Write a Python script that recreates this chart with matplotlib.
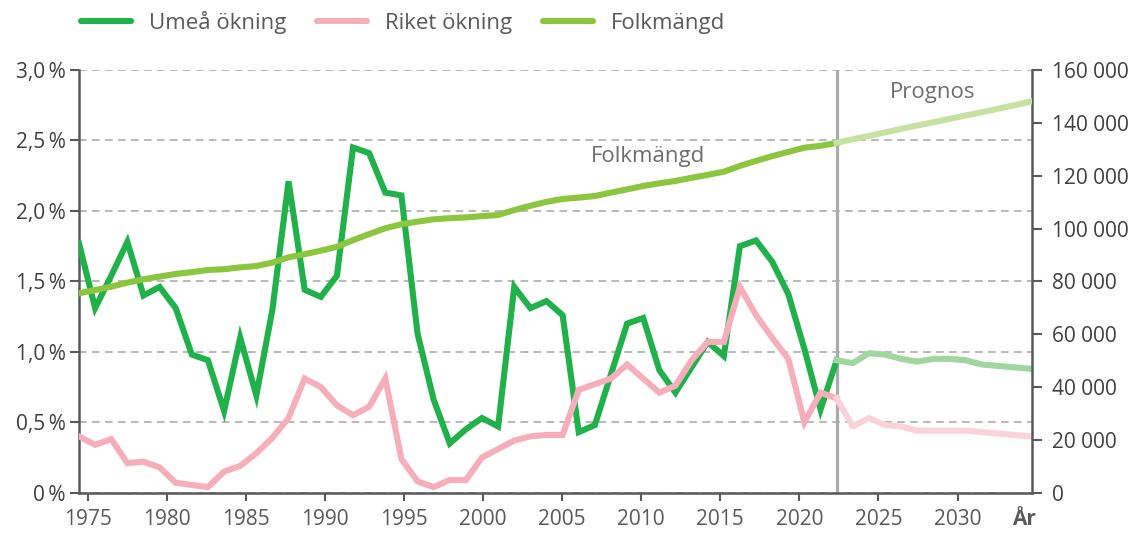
import numpy as np
import matplotlib
matplotlib.use("Agg")
import matplotlib.pyplot as plt
from matplotlib.lines import Line2D

plt.rcParams['font.family'] = ['Open Sans', 'DejaVu Sans']

# ---------------- data ----------------
years_hist = list(range(1975, 2023))          # 1975..2022
years_prog = list(range(2022, 2035))          # 2022..2034 (starts at last observed year)

umea_hist = [1.77, 1.31, 1.54, 1.78, 1.40, 1.46, 1.31, 0.98, 0.94, 0.58,
             1.10, 0.69, 1.30, 2.21, 1.44, 1.39, 1.54, 2.45, 2.41, 2.13,
             2.11, 1.13, 0.66, 0.35, 0.45, 0.53, 0.47, 1.46, 1.31, 1.36,
             1.26, 0.43, 0.48, 0.84, 1.20, 1.24, 0.87, 0.71, 0.89, 1.07,
             0.97, 1.75, 1.79, 1.64, 1.41, 1.02, 0.59, 0.94]
umea_prog = [0.94, 0.92, 0.99, 0.98, 0.95, 0.93, 0.95, 0.95, 0.94, 0.91,
             0.90, 0.89, 0.88]

riket_hist = [0.40, 0.34, 0.38, 0.21, 0.22, 0.18, 0.07, 0.055, 0.04, 0.15,
              0.19, 0.28, 0.39, 0.53, 0.81, 0.75, 0.62, 0.55, 0.61, 0.81,
              0.24, 0.08, 0.04, 0.09, 0.09, 0.25, 0.31, 0.37, 0.40, 0.41,
              0.41, 0.73, 0.77, 0.81, 0.91, 0.81, 0.71, 0.76, 0.94, 1.07,
              1.07, 1.46, 1.26, 1.10, 0.95, 0.50, 0.71, 0.67]
riket_prog = [0.67, 0.47, 0.53, 0.48, 0.47, 0.44, 0.44, 0.44, 0.44, 0.43,
              0.42, 0.41, 0.40]

folk_hist = [75.5, 76.7, 78.0, 79.5, 80.8, 81.8, 82.8, 83.5, 84.3, 84.6,
             85.3, 85.8, 87.1, 89.1, 90.3, 91.6, 93.1, 95.6, 97.9, 100.1,
             101.6, 102.6, 103.5, 103.9, 104.2, 104.7, 105.1, 107.0, 108.6, 110.1,
             111.2, 111.7, 112.3, 113.6, 114.8, 116.1, 117.1, 118.0, 119.2, 120.3,
             121.5, 123.7, 125.6, 127.4, 129.0, 130.6, 131.3, 132.4]
folk_prog = [132.4, 133.8, 135.0, 136.4, 137.7, 139.0, 140.2, 141.5, 142.8,
             144.0, 145.3, 146.6, 148.0]

pct_ticks = [0, 0.5, 1.0, 1.5, 2.0, 2.5, 3.0]
pct_labels = ["0\u2009%", "0,5\u2009%", "1,0\u2009%", "1,5\u2009%", "2,0\u2009%", "2,5\u2009%", "3,0\u2009%"]
pop_ticks = [0, 20000, 40000, 60000, 80000, 100000, 120000, 140000, 160000]
pop_labels = ["0", "20 000", "40 000", "60 000", "80 000", "100 000", "120 000", "140 000", "160 000"]
year_labels = ["1975", "1980", "1985", "1990", "1995", "2000", "2005", "2010",
               "2015", "2020", "2025", "2030"]
split_year = 2022

# ---------------- style ----------------
C_UMEA = "#21B14B"
C_UMEA_P = "#A0D6A0"
C_RIKET = "#F6AEBB"
C_RIKET_P = "#FAD3DA"
C_FOLK = "#8CC63E"
C_FOLK_P = "#C6E2A2"
SPINE = "#595959"
TXT = "#404040"
LW = 4.4

fig = plt.figure(figsize=(11.44, 5.36), dpi=100)
ax = fig.add_axes([0.06906, 0.08078, 0.83278, 0.78862])
ax2 = ax.twinx()

ax.plot(years_hist, umea_hist, color=C_UMEA, lw=LW, solid_joinstyle='miter', zorder=3)
ax.plot(years_prog, umea_prog, color=C_UMEA_P, lw=LW, zorder=3)
ax.plot(years_hist, riket_hist, color=C_RIKET, lw=LW, solid_joinstyle='miter', zorder=4)
ax.plot(years_prog, riket_prog, color=C_RIKET_P, lw=LW, zorder=4)

ax2.plot(years_hist, np.array(folk_hist) * 1000, color=C_FOLK, lw=LW, zorder=3)
ax2.plot(years_prog, np.array(folk_prog) * 1000, color=C_FOLK_P, lw=LW, zorder=3)

ax.axvline(split_year, color="#ABABAB", lw=2.3, zorder=2)

ax.set_xlim(1975, 2034.1)
ax.set_ylim(0, 3.0)
ax2.set_ylim(0, 160000)

ax.set_yticks(pct_ticks, labels=pct_labels)
ax2.set_yticks(pop_ticks, labels=pop_labels)
xt = np.linspace(1975.55, 2029.5, len(year_labels))
ax.set_xticks(xt, labels=year_labels)
ax.set_xticks([2033.6], labels=["År"], minor=True)

ax.yaxis.grid(True, linestyle=(0, (5, 3.5)), color="#A6A6A6", lw=1.1)
ax.set_axisbelow(True)

for a in (ax, ax2):
    a.spines['top'].set_visible(False)
    for s in a.spines.values():
        s.set_color(SPINE)
        s.set_linewidth(1.8)
ax.spines['right'].set_visible(False)
ax2.spines['left'].set_visible(False)
ax2.spines['bottom'].set_visible(False)

ax.tick_params(axis='y', which='major', length=6.5, width=1.5, color=SPINE,
               labelsize=15, labelcolor=TXT, pad=3)
ax.tick_params(axis='x', which='major', length=5.5, width=1.5, color=SPINE,
               labelsize=15, labelcolor="#595959", pad=6.5)
ax.tick_params(axis='x', which='minor', length=0, labelsize=15, labelcolor="#595959", pad=12)
ax2.tick_params(axis='y', length=7.5, width=1.5, color=SPINE,
                labelsize=15, labelcolor=TXT, pad=7)
for lab in ax.get_xticklabels(minor=True):
    lab.set_fontweight('bold')

ax.text(2010.3, 2.384, "Folkmängd", fontsize=16, color="#6D6D6D", ha='center', va='center')
ax.text(2027.96, 2.84, "Prognos", fontsize=16, color="#6D6D6D", ha='center', va='center')

handles = [Line2D([], [], color=C_UMEA, lw=LW, solid_capstyle='round'),
           Line2D([], [], color=C_RIKET, lw=LW, solid_capstyle='round'),
           Line2D([], [], color=C_FOLK, lw=LW, solid_capstyle='round')]
fig.legend(handles, ["Umeå ökning", "Riket ökning", "Folkmängd"],
           loc='center left', bbox_to_anchor=(81 / 1144, 1 - 22 / 536),
           ncol=3, frameon=False, borderpad=0, borderaxespad=0,
           fontsize=16, labelcolor="#595959",
           handlelength=2.25, handletextpad=0.8, columnspacing=1.4)

fig.savefig("out.png", dpi=100)
